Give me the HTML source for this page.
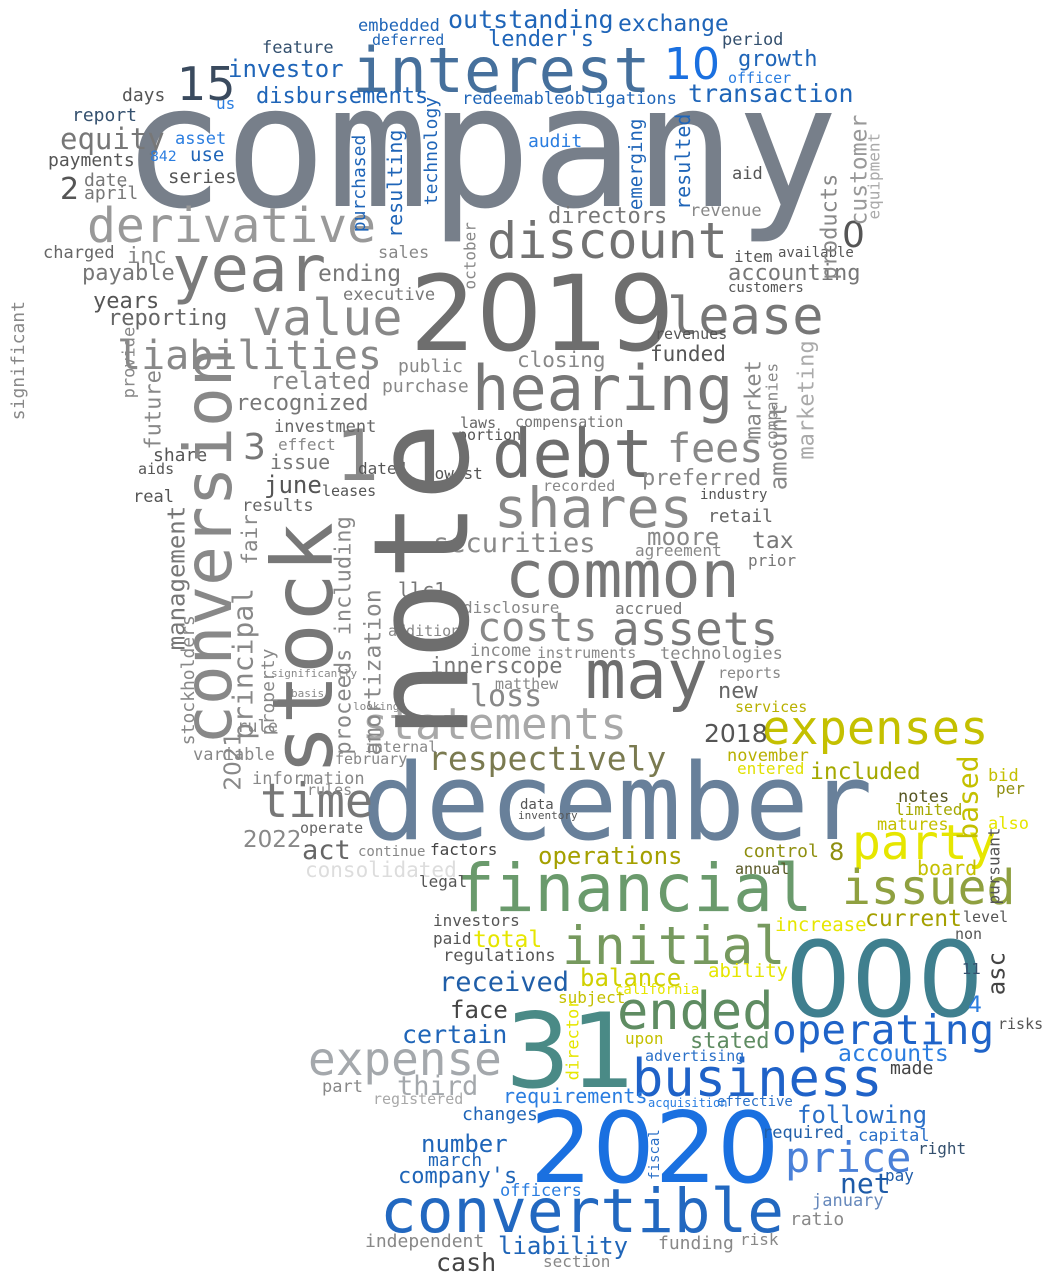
<!DOCTYPE html>
<html><head><meta charset="utf-8">
<style>
html,body{margin:0;padding:0;background:#fff;}
#cloud{position:relative;width:1046px;height:1280px;overflow:hidden;background:#fff;font-family:"DejaVu Sans Mono","Liberation Mono",monospace;}
#cloud span{position:absolute;white-space:pre;line-height:1;}
#cloud span.num{font-family:"DejaVu Sans","Liberation Sans",sans-serif;}
</style></head>
<body>
<div id="cloud"></div>
<script>
// [word, x, baselineY, fontSize, color]
var words = [
["company",122,207,170,"#777f8a"],
["interest",352,92,62,"#46709c"],
["2019",410,350,104,"#6e6e6e"],
["december",362,840,106,"#68809a"],
["financial",455,912,66,"#6a9a6c"],
["initial",562,965,53,"#76995e"],
["000",785,1016,104,"#3f7f8e"],
["31",505,1088,103,"#4a8a86"],
["2020",530,1183,98,"#1a70e0"],
["convertible",380,1233,61,"#2268c0"],
["business",632,1097,52,"#1f62c8"],
["operating",772,1045,41,"#1f63c8"],
["ended",617,1030,52,"#5f8c62"],
["expense",308,1075,46,"#a4a8ac"],
["price",785,1173,42,"#4a80d8"],
["expenses",762,745,47,"#c4c000"],
["party",852,860,48,"#e6e600"],
["issued",842,905,48,"#8fa040"],
["respectively",428,770,33,"#7a7a50"],
["statements",362,740,44,"#a8a8a8"],
["may",585,700,68,"#6e6e6e"],
["assets",612,645,46,"#7a7a7a"],
["common",505,598,65,"#777777"],
["costs",477,642,40,"#888888"],
["shares",494,528,55,"#888888"],
["debt",492,478,67,"#6e6e6e"],
["fees",667,463,40,"#888888"],
["hearing",472,410,62,"#777777"],
["lease",667,335,52,"#777777"],
["discount",487,258,50,"#727272"],
["derivative",87,243,48,"#999999"],
["year",172,292,64,"#7a7a7a"],
["value",252,335,50,"#888888"],
["liabilities",117,370,40,"#888888"],
["time",260,818,47,"#777777"],
["15",177,100,46,"#3a4a5e"],
["10",664,80,44,"#1a70e0"],
["1",336,480,70,"#888888"],
["3",243,460,36,"#777777"],
["0",842,248,36,"#555555"],
["2",60,200,30,"#555555"],
["equity",60,150,29,"#777777"],
["investor",228,77,24,"#1f65b8"],
["disbursements",256,105,22,"#1f65b8"],
["outstanding",448,28,25,"#1f65b8"],
["lender's",488,48,22,"#1f65b8"],
["exchange",618,32,23,"#1f65b8"],
["transaction",688,102,25,"#1f65b8"],
["growth",738,68,22,"#1f65b8"],
["period",722,46,17,"#34506e"],
["officer",728,84,15,"#2a7de0"],
["redeemableobligations",462,105,17,"#1f65b8"],
["embedded",358,32,17,"#1f65b8"],
["deferred",372,46,15,"#1f65b8"],
["feature",262,54,17,"#34506e"],
["asset",175,145,17,"#2a7de0"],
["use",190,162,19,"#1f65b8"],
["842",150,162,14,"#2a7de0"],
["series",168,184,19,"#555555"],
["date",84,187,18,"#777777"],
["april",84,200,18,"#777777"],
["payments",48,167,18,"#555555"],
["report",72,122,18,"#34506e"],
["days",122,102,18,"#555555"],
["us",216,110,16,"#2a7de0"],
["audit",528,148,18,"#2a7de0"],
["directors",548,225,22,"#777777"],
["revenue",690,217,17,"#888888"],
["aid",732,180,17,"#555555"],
["accounting",728,282,22,"#777777"],
["customers",728,293,14,"#555555"],
["item",734,263,16,"#555555"],
["available",778,258,14,"#555555"],
["ending",318,282,23,"#777777"],
["charged",43,259,17,"#666666"],
["inc",127,265,22,"#888888"],
["payable",82,282,22,"#777777"],
["years",93,310,22,"#555555"],
["reporting",108,327,22,"#666666"],
["executive",343,301,17,"#777777"],
["sales",378,259,17,"#888888"],
["related",270,389,24,"#888888"],
["recognized",236,412,22,"#777777"],
["investment",274,433,17,"#666666"],
["effect",278,451,16,"#888888"],
["issue",270,469,20,"#777777"],
["june",264,493,24,"#555555"],
["results",242,512,17,"#666666"],
["share",153,462,18,"#555555"],
["aids",138,475,15,"#555555"],
["real",133,503,17,"#555555"],
["public",398,373,18,"#888888"],
["purchase",382,393,18,"#888888"],
["closing",517,368,21,"#888888"],
["funded",650,362,21,"#555555"],
["revenues",655,340,15,"#555555"],
["laws",460,429,15,"#666666"],
["compensation",515,428,15,"#777777"],
["portion",458,441,15,"#555555"],
["lowest",425,480,16,"#555555"],
["dated",358,475,16,"#555555"],
["leases",322,497,15,"#555555"],
["preferred",642,487,22,"#888888"],
["industry",700,500,14,"#555555"],
["retail",708,523,18,"#666666"],
["tax",752,549,23,"#777777"],
["prior",748,567,16,"#777777"],
["moore",647,545,24,"#888888"],
["agreement",635,557,16,"#888888"],
["securities",433,553,27,"#888888"],
["recorded",543,492,15,"#888888"],
["llc1",398,597,20,"#777777"],
["disclosure",463,614,16,"#888888"],
["accrued",615,615,16,"#777777"],
["technologies",660,660,17,"#888888"],
["instruments",537,659,15,"#888888"],
["income",470,657,17,"#888888"],
["innerscope",430,675,22,"#777777"],
["loss",470,707,30,"#888888"],
["matthew",495,690,15,"#888888"],
["addition",388,637,15,"#888888"],
["reports",718,679,15,"#888888"],
["new",718,700,22,"#666666"],
["2018",704,742,25,"#555555"],
["services",735,713,15,"#b8b000"],
["november",727,762,17,"#b8b000"],
["entered",737,775,16,"#e0e000"],
["included",810,780,23,"#a4a800"],
["notes",898,803,17,"#555522"],
["limited",895,816,16,"#a4a800"],
["matures",877,831,17,"#c4c000"],
["also",988,830,17,"#e6e600"],
["bid",988,782,17,"#c4c000"],
["per",996,795,16,"#8f8f10"],
["board",917,875,20,"#c4c000"],
["control",743,858,18,"#8f8f10"],
["annual",735,875,15,"#555522"],
["8",829,860,24,"#8f8f10"],
["operations",538,864,24,"#a4a000"],
["current",865,927,23,"#a4a000"],
["increase",775,932,19,"#e6e600"],
["level",963,923,15,"#555555"],
["non",955,940,15,"#555555"],
["legal",419,888,16,"#555555"],
["investors",433,927,16,"#555555"],
["paid",433,945,16,"#555555"],
["total",473,948,23,"#e6e600"],
["regulations",443,962,17,"#555555"],
["balance",580,986,24,"#d0d000"],
["ability",708,978,19,"#e6e600"],
["california",615,995,14,"#e6e600"],
["subject",558,1004,16,"#c4c000"],
["received",439,992,27,"#1f5ea8"],
["face",450,1018,24,"#444444"],
["certain",402,1043,25,"#1f65b8"],
["upon",625,1045,16,"#c4c000"],
["stated",690,1050,22,"#5f8c62"],
["advertising",645,1062,15,"#2a70c8"],
["accounts",838,1062,23,"#2a7de0"],
["made",890,1075,18,"#444444"],
["risks",998,1030,15,"#555555"],
["4",968,1014,22,"#2a7de0"],
["11",962,975,15,"#34506e"],
["third",397,1096,27,"#a4a8ac"],
["registered",373,1105,15,"#a8a8a8"],
["part",322,1093,17,"#888888"],
["requirements",503,1103,20,"#2a7de0"],
["effective",717,1107,14,"#2a70c8"],
["acquisition",648,1107,12,"#2a7de0"],
["following",797,1123,24,"#2a70c8"],
["required",762,1139,17,"#1f5ea8"],
["capital",858,1142,17,"#2a70c8"],
["right",918,1155,16,"#34506e"],
["changes",462,1121,18,"#1f65b8"],
["number",421,1152,24,"#1f65b8"],
["march",428,1167,18,"#1f65b8"],
["company's",398,1185,22,"#1f65b8"],
["officers",500,1197,17,"#2a7de0"],
["net",840,1194,28,"#1e5ba8"],
["pay",885,1182,16,"#1e5ba8"],
["january",812,1207,17,"#6688bb"],
["ratio",790,1226,18,"#888888"],
["independent",365,1248,18,"#888888"],
["liability",498,1254,24,"#1f65b8"],
["funding",658,1250,18,"#888888"],
["risk",740,1246,16,"#888888"],
["cash",436,1271,25,"#444444"],
["section",543,1268,16,"#888888"],
["consolidated",305,878,21,"#dddddd"],
["act",302,860,27,"#666666"],
["2022",243,848,23,"#888888"],
["operate",300,834,15,"#666666"],
["continue",358,857,14,"#888888"],
["factors",430,856,16,"#444444"],
["information",252,785,17,"#888888"],
["rules",307,796,15,"#888888"],
["variable",193,761,17,"#888888"],
["february",335,765,15,"#888888"],
["internal",365,753,15,"#888888"],
["rule",237,733,17,"#888888"],
["significantly",271,677,11,"#888888"],
["basis",291,697,11,"#888888"],
["looking",353,710,11,"#888888"],
["data",520,810,14,"#555555"],
["inventory",518,819,11,"#555555"]
];
// [word, baselineX, startY, fontSize, color]
var vwords = [
["note",468,740,132,"#6e6e6e"],
["stock",332,775,84,"#777777"],
["conversion",232,745,66,"#888888"],
["principal",253,740,28,"#888888"],
["management",185,650,24,"#777777"],
["stockholders",195,745,18,"#888888"],
["future",162,450,22,"#888888"],
["provide",136,398,17,"#888888"],
["significant",25,420,18,"#888888"],
["amortization",382,755,23,"#888888"],
["proceeds including",352,755,22,"#888888"],
["fair",258,565,21,"#888888"],
["property",275,735,18,"#888888"],
["amount",787,490,24,"#888888"],
["market",762,440,22,"#888888"],
["marketing",815,460,22,"#aaaaaa"],
["companies",778,450,16,"#888888"],
["products",838,280,22,"#888888"],
["customer",868,225,23,"#999999"],
["equipment",880,220,16,"#aaaaaa"],
["resulted",690,210,20,"#1f65b8"],
["emerging",643,210,19,"#1f65b8"],
["purchased",366,232,18,"#1f65b8"],
["resulting",402,238,20,"#1f65b8"],
["technology",438,205,18,"#1f65b8"],
["october",476,290,16,"#888888"],
["based",978,840,28,"#c4c000"],
["pursuant",1000,905,16,"#555555"],
["asc",1005,995,24,"#444444"],
["director",580,1080,17,"#e6e600"],
["fiscal",660,1180,14,"#2a70c8"],
["2021",242,790,23,"#888888"]
];
var cloud = document.getElementById('cloud');
function slug(t){return t.toLowerCase().replace(/[^a-z0-9]+/g,'-');}
words.forEach(function(w){
  var s = document.createElement('span');
  
  
  s.textContent = w[0];
  if (/^[0-9]+$/.test(w[0])) s.className = 'num';
  s.style.left = w[1] + 'px';
  s.style.top = (w[2] - 0.846 * w[3]) + 'px';
  s.style.fontSize = w[3] + 'px';
  s.style.color = w[4];
  cloud.appendChild(s);
});
vwords.forEach(function(w){
  var s = document.createElement('span');
  
  
  s.textContent = w[0];
  if (/^[0-9]+$/.test(w[0])) s.className = 'num';
  var b = 0.846 * w[3];
  s.style.left = w[1] + 'px';
  s.style.top = (w[2] - b) + 'px';
  s.style.fontSize = w[3] + 'px';
  s.style.color = w[4];
  s.style.transformOrigin = '0 ' + b + 'px';
  s.style.transform = 'rotate(-90deg)';
  cloud.appendChild(s);
});
</script>
</body></html>
